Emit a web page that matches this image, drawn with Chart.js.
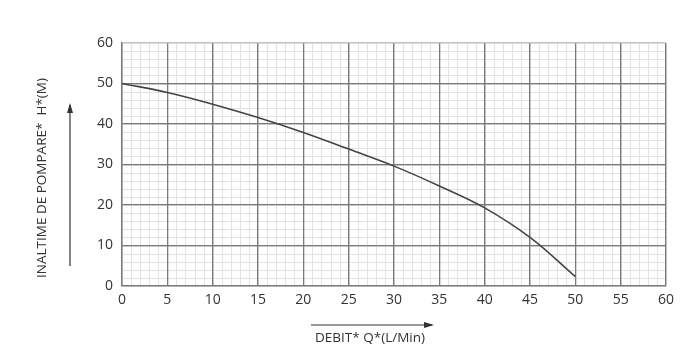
<!DOCTYPE html>
<html>
<head>
<meta charset="utf-8">
<script src="https://cdn.jsdelivr.net/npm/chart.js@4.4.1/dist/chart.umd.min.js"></script>
<style>
  html, body { margin: 0; padding: 0; background: #fff; }
  #chart { display: block; }
</style>
</head>
<body>
<canvas id="chart" width="700" height="360"></canvas>
<script>
// flow Q (L/Min) and head H (M)
const flow = [0, 5, 10, 15, 20, 25, 30, 35, 40, 45, 50];
const head = [50, 47.8, 44.9, 41.6, 37.9, 33.8, 29.6, 24.7, 19.3, 12.0, 2.3];

const xTitle = 'DEBIT* Q*(L/Min)';
const yTitle = 'INALTIME DE POMPARE*  H*(M)';
const FONT = '"Open Sans", "Noto Sans", sans-serif';

// light minor grid (1 unit in x, 2 units in y) drawn before the major grid
const minorGrid = {
  id: 'minorGrid',
  beforeDraw(chart) {
    const { ctx, chartArea: a, scales: { x, y } } = chart;
    ctx.save();
    ctx.strokeStyle = '#e2e2e2';
    ctx.lineWidth = 1;
    ctx.beginPath();
    for (let v = x.min; v <= x.max; v += 1) {
      const px = Math.round(x.getPixelForValue(v)) + 0.5;
      ctx.moveTo(px, a.top); ctx.lineTo(px, a.bottom);
    }
    for (let v = y.min; v <= y.max; v += 2) {
      const py = Math.round(y.getPixelForValue(v)) + 0.5;
      ctx.moveTo(a.left, py); ctx.lineTo(a.right, py);
    }
    ctx.stroke();
    ctx.restore();
  }
};

function arrow(ctx, x1, y1, x2, y2) {
  const ang = Math.atan2(y2 - y1, x2 - x1);
  ctx.beginPath();
  ctx.moveTo(x1, y1); ctx.lineTo(x2, y2);
  ctx.stroke();
  ctx.beginPath();
  ctx.moveTo(x2 + Math.cos(ang) * 2, y2 + Math.sin(ang) * 2);
  ctx.lineTo(x2 - Math.cos(ang) * 8 - Math.sin(ang) * 3, y2 - Math.sin(ang) * 8 + Math.cos(ang) * 3);
  ctx.lineTo(x2 - Math.cos(ang) * 8 + Math.sin(ang) * 3, y2 - Math.sin(ang) * 8 - Math.cos(ang) * 3);
  ctx.closePath();
  ctx.fill();
}

// axis titles with their arrows
const titles = {
  id: 'titles',
  afterDraw(chart) {
    const { ctx, chartArea: a } = chart;
    ctx.save();
    ctx.fillStyle = '#333';
    ctx.strokeStyle = '#333';
    ctx.lineWidth = 1.2;
    ctx.font = '13.5px ' + FONT;
    ctx.textAlign = 'center';
    ctx.textBaseline = 'middle';
    ctx.fillText(xTitle, a.left + 248, a.bottom + 52);
    arrow(ctx, a.left + 189, a.bottom + 39, a.left + 310, a.bottom + 39);

    ctx.translate(a.left - 80, a.top + 135);
    ctx.rotate(-Math.PI / 2);
    ctx.fillText(yTitle, 0, 0);
    ctx.restore();

    ctx.save();
    ctx.fillStyle = '#333';
    ctx.strokeStyle = '#333';
    ctx.lineWidth = 1.2;
    arrow(ctx, a.left - 52, a.top + 223, a.left - 52, a.top + 62);
    ctx.restore();
  }
};

new Chart(document.getElementById('chart'), {
  type: 'line',
  data: {
    datasets: [{
      data: flow.map((q, i) => ({ x: q, y: head[i] })),
      borderColor: '#444',
      borderWidth: 1.6,
      pointRadius: 0,
      tension: 0.4,
      fill: false
    }]
  },
  options: {
    responsive: false,
    animation: false,
    layout: { padding: { left: 0, right: 34, top: 43, bottom: 0 } },
    plugins: { legend: { display: false }, tooltip: { enabled: false } },
    scales: {
      x: {
        type: 'linear', min: 0, max: 60,
        ticks: { stepSize: 5, color: '#333', font: { family: FONT, size: 14 }, padding: 6 },
        grid: { color: '#7a7a7a', lineWidth: 1.3, drawTicks: false },
        border: { color: '#7a7a7a', width: 1.3 },
        afterFit(s) { s.height = 74; }
      },
      y: {
        min: 0, max: 60,
        ticks: { stepSize: 10, color: '#333', font: { family: FONT, size: 14 }, padding: 9 },
        grid: {
          color: c => c.tick && c.tick.value === 60 ? '#c4c4c4' : '#7a7a7a',
          lineWidth: 1.3, drawTicks: false
        },
        border: { color: '#7a7a7a', width: 1.3 },
        afterFit(s) { s.width = 122; }
      }
    }
  },
  plugins: [minorGrid, titles]
});
</script>
</body>
</html>
